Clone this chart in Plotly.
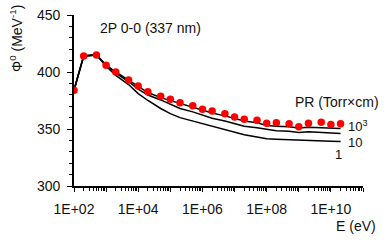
import plotly.graph_objects as go

energy = [1e2, 2e2, 5e2, 1e3, 2e3, 5e3, 1e4, 2e4, 5e4, 1e5, 2e5, 5e5, 1e6, 2e6, 5e6,
          1e7, 2e7, 5e7, 1e8, 2e8, 5e8, 1e9, 2e9, 5e9, 1e10, 2e10]
phi_ref = [384, 414, 415, 406, 400, 393, 387.7, 382.7, 378.7, 376, 373, 370.4, 367.3, 365.8,
           363.4, 360.5, 358.5, 357.6, 355, 355.5, 354.7, 352, 355, 355.9, 354, 354.7]
phi_pr1000 = [384, 414, 415, 406, 400, 393, 387, 382, 377.5, 375, 372, 369, 366.5, 364,
              361.5, 359, 357, 355.5, 353, 352.5, 352, 350.8, 351.5, 351.2, 350.8, 350.5]
phi_pr10 = [384, 414, 415, 406, 399, 391.5, 385, 379.8, 375.5, 371.5, 368, 365, 362, 359.5,
            357, 354.5, 352.5, 351, 349.5, 348.5, 348, 347, 347.5, 347, 346.5, 346]
phi_pr1 = [384, 414, 415, 405, 397, 389, 381, 375, 368, 363.5, 360, 357, 354.5, 352,
           349, 347, 345, 343, 341.5, 341, 340.5, 340, 339.5, 339.5, 339.2, 339]

decades = [10 ** k for k in range(2, 12)]
decade_labels = ["1E+02", "", "1E+04", "", "1E+06", "", "1E+08", "", "1E+10", ""]
minor_vals = [m * 10 ** k for k in range(2, 11) for m in range(2, 10)]

FONT = "Liberation Sans, Arial, sans-serif"
TXT = "#111111"
FS = 14

fig = go.Figure()
for ys in (phi_pr1, phi_pr10, phi_pr1000):
    fig.add_trace(go.Scatter(x=energy, y=ys, mode="lines",
                             line=dict(color="black", width=1.5), showlegend=False))
fig.add_trace(go.Scatter(x=energy, y=phi_ref, mode="markers",
                         marker=dict(color="#ff0000", size=7.5), showlegend=False))

L, R, T, B = 74, 363, 15, 186
W, H = 390, 247


def px(xp):
    return (xp - L) / (R - L)


def py(yp):
    return (B - yp) / (B - T)


fig.update_layout(
    width=W, height=H,
    margin=dict(l=L, r=W - R, t=T, b=H - B, autoexpand=False),
    paper_bgcolor="white", plot_bgcolor="white",
    font=dict(family=FONT, size=FS, color=TXT),
    xaxis=dict(type="log", range=[2, 11], tickvals=decades, ticktext=decade_labels,
               ticks="outside", ticklen=4, tickwidth=1.2, tickcolor="black",
               showline=True, linecolor="black", linewidth=1.6,
               showgrid=False, zeroline=False, ticklabelstandoff=5,
               minor=dict(tickvals=minor_vals, ticks="outside", ticklen=3,
                          tickcolor="black", tickwidth=1, showgrid=False),
               tickfont=dict(size=FS, color=TXT)),
    yaxis=dict(range=[300, 450], tickvals=[300, 350, 400, 450],
               ticks="outside", ticklen=5, tickwidth=1.2, tickcolor="black",
               showline=True, linecolor="black", linewidth=1.6,
               showgrid=False, zeroline=False, ticklabelstandoff=4,
               minor=dict(dtick=10, ticks="outside", ticklen=3, tickcolor="black",
                          tickwidth=1, showgrid=False),
               tickfont=dict(size=FS, color=TXT)),
)

ann = [
    dict(text="Φ<sup>0</sup> (MeV<sup>-1</sup>)", x=16, y=39, textangle=-90,
         xanchor="center", yanchor="middle", size=FS),
    dict(text="2P 0-0 (337 nm)", x=98, y=28, xanchor="left", yanchor="middle", size=FS),
    dict(text="PR (Torr×cm)", x=293, y=102, xanchor="left", yanchor="middle", size=FS),
    dict(text="10<sup>3</sup>", x=346, y=126, xanchor="left", yanchor="middle", size=13),
    dict(text="10", x=346, y=142, xanchor="left", yanchor="middle", size=13),
    dict(text="1", x=338, y=154, xanchor="center", yanchor="middle", size=13),
    dict(text="E (eV)", x=334, y=226, xanchor="left", yanchor="middle", size=FS),
]
for a in ann:
    sz = a.pop("size")
    a["x"] = px(a["x"])
    a["y"] = py(a["y"])
    fig.add_annotation(xref="paper", yref="paper", showarrow=False,
                       font=dict(family=FONT, size=sz, color=TXT), **a)

fig.write_html("out.html", config={"displayModeBar": False},
               post_script="document.body.style.margin='0';document.body.style.overflow='hidden';")
